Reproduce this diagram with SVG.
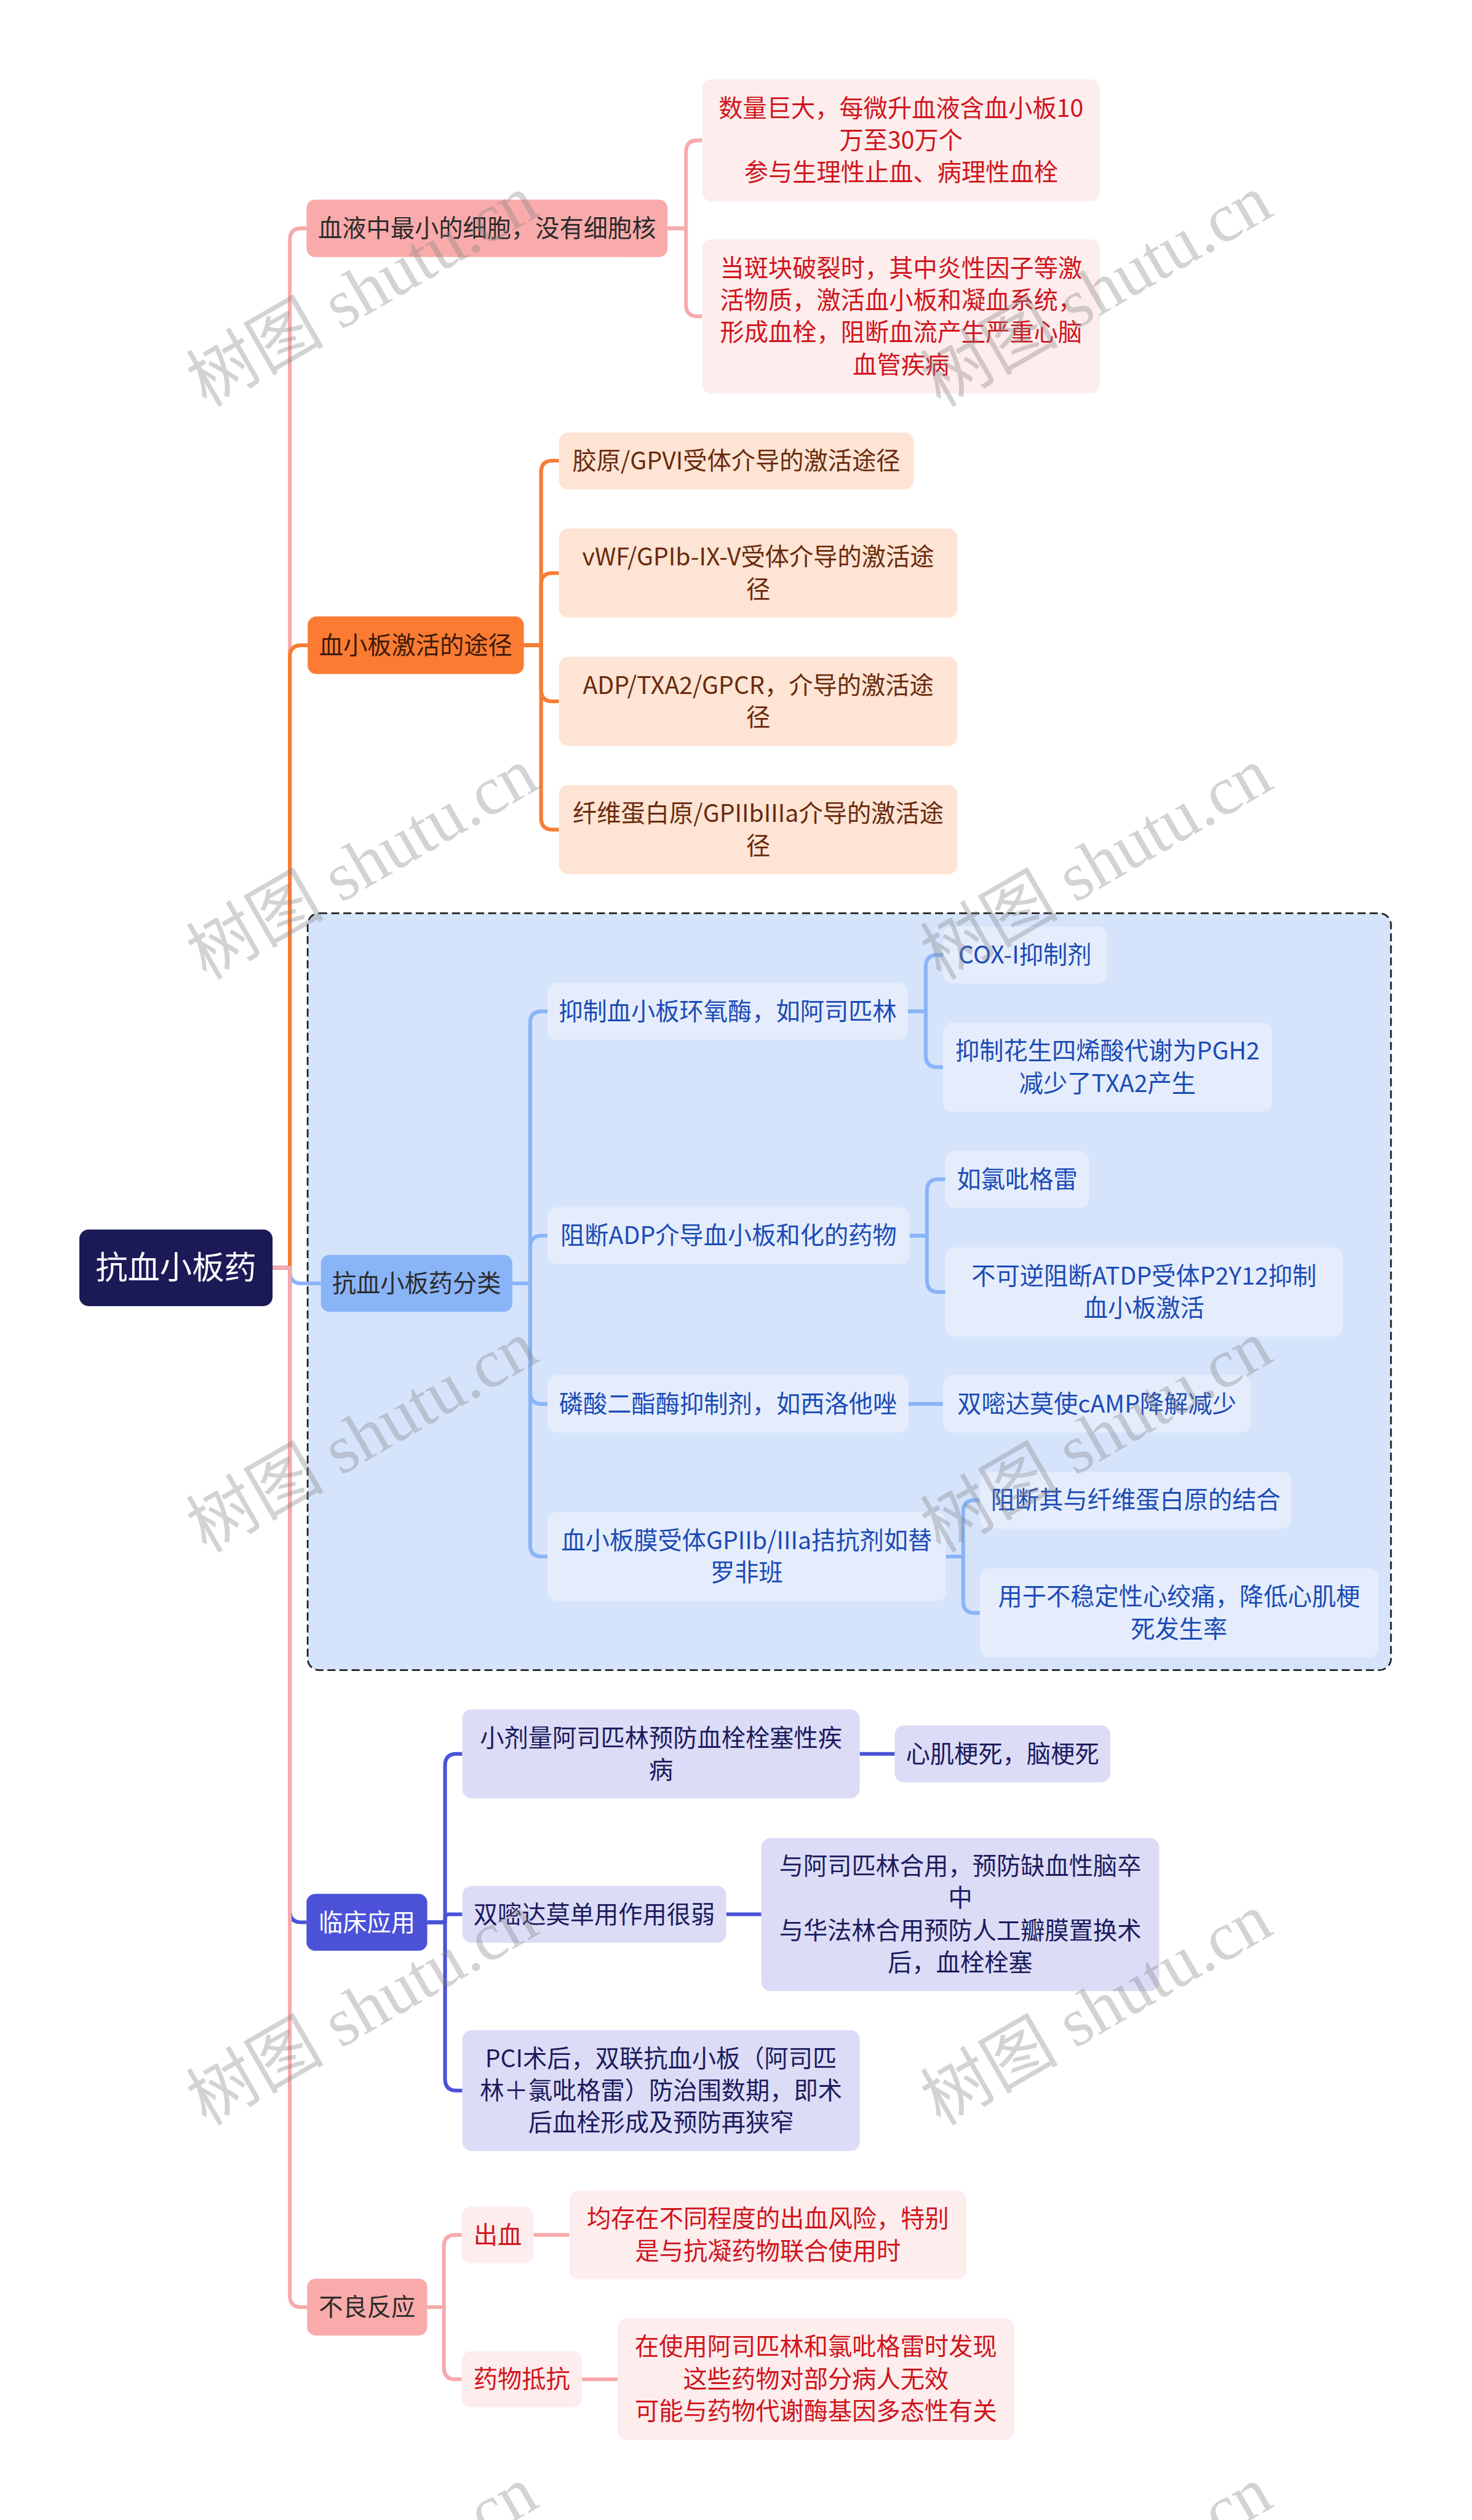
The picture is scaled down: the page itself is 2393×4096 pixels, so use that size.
<svg xmlns="http://www.w3.org/2000/svg" width="2393" height="4096" viewBox="0 0 2393 4096">
<style>
.t{font-family:"Noto Sans CJK SC","Noto Sans",sans-serif;font-size:42px;text-anchor:middle}
.c{fill:none;stroke-width:6.5;stroke-linejoin:round}
.pk{stroke:#f7aaaa}.or{stroke:#f77c35}.bl{stroke:#8ab4f8}.ind{stroke:#4b52d8}
.n1{fill:#f9abab}.n1c{fill:#fdeded}
.n2{fill:#fb7b33}.n2c{fill:#fde4d4}
.n3{fill:#8ab4f8}.n3c{fill:#e5edfc}
.n4{fill:#4b52d8}.n4c{fill:#dcdcf7}
.dk{fill:#2b2b2b}.rd{fill:#d0141c}.br{fill:#6a2a0c}.bt{fill:#1b4bb5}.nv{fill:#1b1b5c}.wh{fill:#ffffff}
.wm{font-family:"Liberation Serif","Noto Sans CJK SC",serif;font-size:120px;fill:#808080;fill-opacity:0.35;text-anchor:middle}
</style>
<rect x="0" y="0" width="2393" height="4096" fill="#ffffff"/>
<g transform="scale(0.9348)">
<g id="group-box">
<rect x="535" y="1588" width="1884" height="1316" rx="20" fill="#d5e3fb" stroke="#222222" stroke-width="3" stroke-dasharray="14 7"/>
</g>
<g id="connectors">
<path class="c pk" d="M474,2204.5 H504 V417 Q504,397 524,397 H533"/>
<path class="c or" d="M474,2204.5 H504 V1142 Q504,1122 524,1122 H535"/>
<path class="c bl" d="M474,2204.5 H504 V2211.5 Q504,2231.5 524,2231.5 H558"/>
<path class="c ind" d="M474,2204.5 H504 V3322.5 Q504,3342.5 524,3342.5 H533"/>
<path class="c pk" d="M474,2204.5 H504 V3991.5 Q504,4011.5 524,4011.5 H534"/>
<path class="c pk" d="M1161,397 H1193 V264 Q1193,244 1213,244 H1221"/>
<path class="c pk" d="M1161,397 H1193 V530 Q1193,550 1213,550 H1221"/>
<path class="c or" d="M911,1122 H941 V821 Q941,801 961,801 H972"/>
<path class="c or" d="M911,1122 H941 V1016.5 Q941,996.5 961,996.5 H972"/>
<path class="c or" d="M911,1122 H941 V1199.5 Q941,1219.5 961,1219.5 H972"/>
<path class="c or" d="M911,1122 H941 V1422.5 Q941,1442.5 961,1442.5 H972"/>
<path class="c bl" d="M891,2231.5 H922 V1778.5 Q922,1758.5 942,1758.5 H952"/>
<path class="c bl" d="M891,2231.5 H922 V2168.5 Q922,2148.5 942,2148.5 H952"/>
<path class="c bl" d="M891,2231.5 H922 V2421 Q922,2441 942,2441 H952"/>
<path class="c bl" d="M891,2231.5 H922 V2686.5 Q922,2706.5 942,2706.5 H952"/>
<path class="c bl" d="M1579,1758.5 H1610 V1680.5 Q1610,1660.5 1630,1660.5 H1640"/>
<path class="c bl" d="M1579,1758.5 H1610 V1835.5 Q1610,1855.5 1630,1855.5 H1640"/>
<path class="c bl" d="M1582,2148.5 H1612 V2070.5 Q1612,2050.5 1632,2050.5 H1644"/>
<path class="c bl" d="M1582,2148.5 H1612 V2226.5 Q1612,2246.5 1632,2246.5 H1644"/>
<path class="c bl" d="M1580,2441 H1640"/>
<path class="c bl" d="M1645,2706.5 H1675 V2628.5 Q1675,2608.5 1695,2608.5 H1704"/>
<path class="c bl" d="M1645,2706.5 H1675 V2784.5 Q1675,2804.5 1695,2804.5 H1704"/>
<path class="c ind" d="M743,3342.5 H774 V3069.5 Q774,3049.5 794,3049.5 H804"/>
<path class="c ind" d="M743,3342.5 H774 V3335.5 Q774,3328.5 781,3328.5 H804"/>
<path class="c ind" d="M743,3342.5 H774 V3615 Q774,3635 794,3635 H804"/>
<path class="c ind" d="M1495,3049.5 H1556"/>
<path class="c ind" d="M1263,3328.5 H1324"/>
<path class="c pk" d="M743,4011.5 H772 V3906 Q772,3886 792,3886 H803"/>
<path class="c pk" d="M743,4011.5 H772 V4117 Q772,4137 792,4137 H803"/>
<path class="c pk" d="M928,3886 H990"/>
<path class="c pk" d="M1012,4137 H1074"/>
</g>
<g id="root">
<rect x="138" y="2138" width="336" height="133" rx="16" fill="#1b1a57"/>
<text class="t wh" x="306" y="2224.5" style="font-size:56px">抗血小板药</text>
</g>
<g id="n1">
<rect class="n1" x="533" y="347" width="628" height="100" rx="15"/>
<text class="t dk" x="847" y="412">血液中最小的细胞，没有细胞核</text>
</g>
<g id="n1a">
<rect class="n1c" x="1221" y="138" width="692" height="212" rx="16"/>
<text class="t rd"><tspan x="1567" y="203">数量巨大，每微升血液含血小板10</tspan><tspan x="1567" y="259">万至30万个</tspan><tspan x="1567" y="315">参与生理性止血、病理性血栓</tspan></text>
</g>
<g id="n1b">
<rect class="n1c" x="1221" y="416" width="692" height="268" rx="16"/>
<text class="t rd"><tspan x="1567" y="481">当斑块破裂时，其中炎性因子等激</tspan><tspan x="1567" y="537">活物质，激活血小板和凝血系统，</tspan><tspan x="1567" y="593">形成血栓，阻断血流产生严重心脑</tspan><tspan x="1567" y="649">血管疾病</tspan></text>
</g>
<g id="n2">
<rect class="n2" x="535" y="1072" width="376" height="100" rx="15"/>
<text class="t" x="723" y="1137" fill="#3d1a08">血小板激活的途径</text>
</g>
<g id="n2a">
<rect class="n2c" x="972" y="752" width="617" height="99" rx="16"/>
<text class="t br" x="1280.5" y="816">胶原/GPVI受体介导的激活途径</text>
</g>
<g id="n2b">
<rect class="n2c" x="972" y="919" width="693" height="155" rx="16"/>
<text class="t br"><tspan x="1318.5" y="983.5">vWF/GPIb-IX-V受体介导的激活途</tspan><tspan x="1318.5" y="1039.5">径</tspan></text>
</g>
<g id="n2c">
<rect class="n2c" x="972" y="1142" width="693" height="155" rx="16"/>
<text class="t br"><tspan x="1318.5" y="1206.5">ADP/TXA2/GPCR，介导的激活途</tspan><tspan x="1318.5" y="1262.5">径</tspan></text>
</g>
<g id="n2d">
<rect class="n2c" x="972" y="1365" width="693" height="155" rx="16"/>
<text class="t br"><tspan x="1318.5" y="1429.5">纤维蛋白原/GPIIbIIIa介导的激活途</tspan><tspan x="1318.5" y="1485.5">径</tspan></text>
</g>
<g id="n3">
<rect class="n3" x="558" y="2182" width="333" height="99" rx="15"/>
<text class="t dk" x="724.5" y="2246.5">抗血小板药分类</text>
</g>
<g id="n3a">
<rect class="n3c" x="952" y="1709" width="627" height="99" rx="16"/>
<text class="t bt" x="1265.5" y="1773.5">抑制血小板环氧酶，如阿司匹林</text>
</g>
<g id="n3a1">
<rect class="n3c" x="1640" y="1611" width="285" height="99" rx="16"/>
<text class="t bt" x="1782.5" y="1675.5">COX-I抑制剂</text>
</g>
<g id="n3a2">
<rect class="n3c" x="1640" y="1778" width="572" height="155" rx="16"/>
<text class="t bt"><tspan x="1926" y="1842.5">抑制花生四烯酸代谢为PGH2</tspan><tspan x="1926" y="1898.5">减少了TXA2产生</tspan></text>
</g>
<g id="n3b">
<rect class="n3c" x="952" y="2099" width="630" height="99" rx="16"/>
<text class="t bt" x="1267" y="2163.5">阻断ADP介导血小板和化的药物</text>
</g>
<g id="n3b1">
<rect class="n3c" x="1644" y="2001" width="250" height="99" rx="16"/>
<text class="t bt" x="1769" y="2065.5">如氯吡格雷</text>
</g>
<g id="n3b2">
<rect class="n3c" x="1644" y="2169" width="691" height="155" rx="16"/>
<text class="t bt"><tspan x="1989.5" y="2233.5">不可逆阻断ATDP受体P2Y12抑制</tspan><tspan x="1989.5" y="2289.5">血小板激活</tspan></text>
</g>
<g id="n3c">
<rect class="n3c" x="952" y="2391" width="628" height="100" rx="16"/>
<text class="t bt" x="1266" y="2456">磷酸二酯酶抑制剂，如西洛他唑</text>
</g>
<g id="n3c1">
<rect class="n3c" x="1640" y="2391" width="535" height="100" rx="16"/>
<text class="t bt" x="1907.5" y="2456">双嘧达莫使cAMP降解减少</text>
</g>
<g id="n3d">
<rect class="n3c" x="952" y="2629" width="693" height="155" rx="16"/>
<text class="t bt"><tspan x="1298.5" y="2693.5">血小板膜受体GPIIb/IIIa拮抗剂如替</tspan><tspan x="1298.5" y="2749.5">罗非班</tspan></text>
</g>
<g id="n3d1">
<rect class="n3c" x="1704" y="2559" width="542" height="99" rx="16"/>
<text class="t bt" x="1975" y="2623.5">阻断其与纤维蛋白原的结合</text>
</g>
<g id="n3d2">
<rect class="n3c" x="1704" y="2727" width="693" height="155" rx="16"/>
<text class="t bt"><tspan x="2050.5" y="2791.5">用于不稳定性心绞痛，降低心肌梗</tspan><tspan x="2050.5" y="2847.5">死发生率</tspan></text>
</g>
<g id="n4">
<rect class="n4" x="533" y="3293" width="210" height="99" rx="15"/>
<text class="t wh" x="638" y="3357.5">临床应用</text>
</g>
<g id="n4a">
<rect class="n4c" x="804" y="2972" width="691" height="155" rx="16"/>
<text class="t nv"><tspan x="1149.5" y="3036.5">小剂量阿司匹林预防血栓栓塞性疾</tspan><tspan x="1149.5" y="3092.5">病</tspan></text>
</g>
<g id="n4a1">
<rect class="n4c" x="1556" y="3000" width="375" height="99" rx="16"/>
<text class="t nv" x="1743.5" y="3064.5">心肌梗死，脑梗死</text>
</g>
<g id="n4b">
<rect class="n4c" x="804" y="3279" width="459" height="99" rx="16"/>
<text class="t nv" x="1033.5" y="3343.5">双嘧达莫单用作用很弱</text>
</g>
<g id="n4b1">
<rect class="n4c" x="1324" y="3196" width="692" height="266" rx="16"/>
<text class="t nv"><tspan x="1670" y="3259.5">与阿司匹林合用，预防缺血性脑卒</tspan><tspan x="1670" y="3315.5">中</tspan><tspan x="1670" y="3371.5">与华法林合用预防人工瓣膜置换术</tspan><tspan x="1670" y="3427.5">后，血栓栓塞</tspan></text>
</g>
<g id="n4c">
<rect class="n4c" x="804" y="3530" width="691" height="210" rx="16"/>
<text class="t nv"><tspan x="1149.5" y="3594">PCI术后，双联抗血小板（阿司匹</tspan><tspan x="1149.5" y="3650">林＋氯吡格雷）防治围数期，即术</tspan><tspan x="1149.5" y="3706">后血栓形成及预防再狭窄</tspan></text>
</g>
<g id="n5">
<rect class="n1" x="534" y="3962" width="209" height="99" rx="15"/>
<text class="t dk" x="638.5" y="4026.5">不良反应</text>
</g>
<g id="n5a">
<rect class="n1c" x="803" y="3837" width="125" height="98" rx="16"/>
<text class="t rd" x="865.5" y="3901">出血</text>
</g>
<g id="n5a1">
<rect class="n1c" x="990" y="3809" width="691" height="154" rx="16"/>
<text class="t rd"><tspan x="1335.5" y="3873">均存在不同程度的出血风险，特别</tspan><tspan x="1335.5" y="3929">是与抗凝药物联合使用时</tspan></text>
</g>
<g id="n5b">
<rect class="n1c" x="803" y="4088" width="209" height="98" rx="16"/>
<text class="t rd" x="907.5" y="4152">药物抵抗</text>
</g>
<g id="n5b1">
<rect class="n1c" x="1074" y="4031" width="690" height="211" rx="16"/>
<text class="t rd"><tspan x="1419" y="4095.5">在使用阿司匹林和氯吡格雷时发现</tspan><tspan x="1419" y="4151.5">这些药物对部分病人无效</tspan><tspan x="1419" y="4207.5">可能与药物代谢酶基因多态性有关</tspan></text>
</g>
<g id="watermarks">
<text class="wm" transform="translate(650,541) rotate(-30)">树图 shutu.cn</text>
<text class="wm" transform="translate(1927,541) rotate(-30)">树图 shutu.cn</text>
<text class="wm" transform="translate(650,1537) rotate(-30)">树图 shutu.cn</text>
<text class="wm" transform="translate(1927,1537) rotate(-30)">树图 shutu.cn</text>
<text class="wm" transform="translate(650,2533) rotate(-30)">树图 shutu.cn</text>
<text class="wm" transform="translate(1927,2533) rotate(-30)">树图 shutu.cn</text>
<text class="wm" transform="translate(650,3529) rotate(-30)">树图 shutu.cn</text>
<text class="wm" transform="translate(1927,3529) rotate(-30)">树图 shutu.cn</text>
<text class="wm" transform="translate(650,4525) rotate(-30)">树图 shutu.cn</text>
<text class="wm" transform="translate(1927,4525) rotate(-30)">树图 shutu.cn</text>
</g>
</g>
</svg>
